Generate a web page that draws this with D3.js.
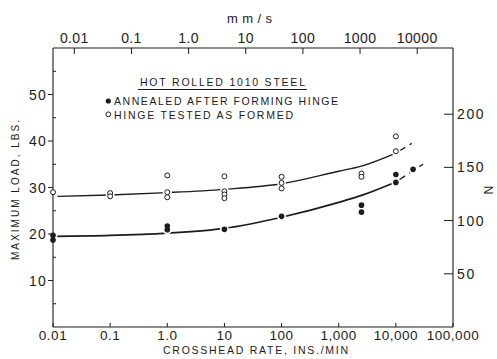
<!DOCTYPE html>
<html>
<head>
<meta charset="utf-8">
<script src="https://cdn.jsdelivr.net/npm/d3@7"></script>
<style>
  html, body { margin: 0; padding: 0; background: #fff; }
  svg { display: block; font-family: "Liberation Sans", Arial, sans-serif; }
</style>
</head>
<body>
<svg id="chart" width="497" height="359"></svg>
<script>
// Crosshead rate (in/min) versus maximum load (lb) for hinges of hot rolled 1010 steel.
const annealedPoints = [
  [0.01, 19.7], [0.01, 18.7], [1, 21.7], [1, 20.9], [10, 21.0], [100, 23.8],
  [2500, 26.2], [2500, 24.7], [10000, 32.8], [10000, 31.1], [20000, 33.9]
];
const asFormedPoints = [
  [0.01, 29.0], [0.1, 28.8], [0.1, 28.1], [1, 32.6], [1, 29.0], [1, 27.9],
  [10, 32.4], [10, 29.2], [10, 28.5], [10, 27.7], [100, 32.3], [100, 31.0], [100, 29.8],
  [2500, 33.0], [2500, 32.3], [10000, 41.0], [10000, 37.8]
];
// Faired curves (solid part, then dashed extrapolation)
const annealedFit = [[0.01, 19.5], [0.1, 19.7], [1, 20.2], [10, 21.2], [100, 23.6], [1000, 26.8], [2500, 28.3], [10000, 31.2]];
const annealedFitExt = [[10000, 31.2], [30000, 35.0]];
const asFormedFit = [[0.012, 28.1], [0.1, 28.4], [1, 28.9], [10, 29.6], [100, 30.8], [1000, 33.5], [2500, 34.6], [10000, 37.4]];
const asFormedFitExt = [[10000, 37.4], [19000, 39.5]];

// Axis ticks
const rateTicks = [0.01, 0.1, 1, 10, 100, 1000, 10000, 100000];
const rateLabels = ["0.01", "0.1", "1.0", "10", "100", "1,000", "10,000", "100,000"];
const mmTicks = [0.01, 0.1, 1, 10, 100, 1000, 10000];
const mmLabels = ["0.01", "0.1", "1.0", "10", "100", "1000", "10000"];
const lbTicks = [10, 20, 30, 40, 50];
const lbMinorTicks = [5, 15, 25, 35, 45, 55];
const nTicks = [50, 100, 150, 200];

const MM_S_PER_IN_MIN = 25.4 / 60;
const NEWTONS_PER_LB = 4.37;

const svg = d3.select("#chart");
const ink = "#1c1c1c";

const x = d3.scaleLog().domain([0.01, 100000]).range([53, 453]);
const y = d3.scaleLinear().domain([0, 60]).range([327, 48]);

const line = d3.line().x(d => x(d[0])).y(d => y(d[1])).curve(d3.curveMonotoneX);

// Faired curves
svg.append("path").attr("d", line(asFormedFit)).attr("fill", "none").attr("stroke", ink).attr("stroke-width", 1.4);
svg.append("path").attr("d", line(annealedFit)).attr("fill", "none").attr("stroke", ink).attr("stroke-width", 1.7);
svg.append("path").attr("d", line(asFormedFitExt)).attr("fill", "none").attr("stroke", ink).attr("stroke-width", 1.4)
  .attr("stroke-dasharray", "6,5").attr("stroke-dashoffset", -5);
svg.append("path").attr("d", line(annealedFitExt)).attr("fill", "none").attr("stroke", ink).attr("stroke-width", 1.4)
  .attr("stroke-dasharray", "7,5").attr("stroke-dashoffset", -4);

// White halos break the curves around each plotted point
svg.append("g").selectAll("circle").data(asFormedPoints.concat(annealedPoints)).join("circle")
  .attr("cx", d => x(d[0])).attr("cy", d => y(d[1])).attr("r", 4.5).attr("fill", "#fff");

// Frame and axes
const frame = svg.append("g").attr("stroke", ink).attr("stroke-width", 1.1).attr("fill", "none");
frame.append("line").attr("x1", x.range()[0]).attr("x2", x.range()[1]).attr("y1", y(0)).attr("y2", y(0));
frame.append("line").attr("x1", x.range()[0]).attr("x2", x.range()[1]).attr("y1", y(60)).attr("y2", y(60));
frame.append("line").attr("x1", x.range()[0]).attr("x2", x.range()[0]).attr("y1", y(0)).attr("y2", y(60));
frame.append("line").attr("x1", x.range()[1]).attr("x2", x.range()[1]).attr("y1", y(0)).attr("y2", y(60));

// Bottom axis: crosshead rate, in/min
const bottomAxis = svg.append("g");
bottomAxis.selectAll("line").data(rateTicks).join("line")
  .attr("x1", d => x(d)).attr("x2", d => x(d)).attr("y1", y(0)).attr("y2", y(0) - 4)
  .attr("stroke", ink).attr("stroke-width", 1);
bottomAxis.selectAll("text").data(rateTicks).join("text")
  .attr("x", d => x(d)).attr("y", 340).attr("text-anchor", "middle")
  .attr("font-size", 13.5).attr("letter-spacing", 0.5).attr("fill", ink)
  .text((d, i) => rateLabels[i]);
svg.append("text").attr("x", 163).attr("y", 354).attr("font-size", 10.5).attr("fill", ink)
  .attr("textLength", 185).attr("lengthAdjust", "spacing")
  .text("CROSSHEAD RATE, INS./MIN");

// Top axis: same rates in mm/s
const xTop = v => x(v / MM_S_PER_IN_MIN);
const topAxis = svg.append("g");
topAxis.selectAll("line").data(mmTicks).join("line")
  .attr("x1", d => xTop(d)).attr("x2", d => xTop(d)).attr("y1", y(60)).attr("y2", y(60) + 6)
  .attr("stroke", ink).attr("stroke-width", 1);
topAxis.selectAll("text").data(mmTicks).join("text")
  .attr("x", d => xTop(d)).attr("y", 43).attr("text-anchor", "middle")
  .attr("font-size", 14).attr("letter-spacing", 0.4).attr("fill", ink)
  .text((d, i) => mmLabels[i]);
svg.append("text").attr("x", 227).attr("y", 23).attr("font-size", 13).attr("fill", ink)
  .attr("textLength", 45).attr("lengthAdjust", "spacing").text("mm/s");

// Left axis: load in lb
const leftAxis = svg.append("g");
leftAxis.selectAll("line.major").data(lbTicks).join("line").attr("class", "major")
  .attr("x1", x.range()[0] - 5).attr("x2", x.range()[0]).attr("y1", d => y(d)).attr("y2", d => y(d))
  .attr("stroke", ink).attr("stroke-width", 1);
leftAxis.selectAll("line.minor").data(lbMinorTicks).join("line").attr("class", "minor")
  .attr("x1", x.range()[0]).attr("x2", x.range()[0] + 3).attr("y1", d => y(d)).attr("y2", d => y(d))
  .attr("stroke", ink).attr("stroke-width", 1);
leftAxis.selectAll("text").data(lbTicks).join("text")
  .attr("x", 47).attr("y", d => y(d) + 5).attr("text-anchor", "end")
  .attr("font-size", 14).attr("letter-spacing", 1.2).attr("fill", ink)
  .text(d => d);
svg.append("text").attr("transform", "translate(18.5,260) rotate(-90)")
  .attr("font-size", 10).attr("fill", ink)
  .attr("textLength", 140).attr("lengthAdjust", "spacing")
  .text("MAXIMUM LOAD, LBS.");

// Right axis: load in newtons
const yN = n => y(n / NEWTONS_PER_LB);
const rightAxis = svg.append("g");
rightAxis.selectAll("line").data(nTicks).join("line")
  .attr("x1", x.range()[1] - 9).attr("x2", x.range()[1]).attr("y1", d => yN(d)).attr("y2", d => yN(d))
  .attr("stroke", ink).attr("stroke-width", 1);
rightAxis.selectAll("text").data(nTicks).join("text")
  .attr("x", 457).attr("y", d => yN(d) + 5)
  .attr("font-size", 14).attr("letter-spacing", 1.6).attr("fill", ink)
  .text(d => d);
svg.append("text").attr("transform", "translate(484,190) rotate(90)")
  .attr("text-anchor", "middle").attr("font-size", 12).attr("fill", ink).text("N");

// Data points
svg.append("g").selectAll("circle").data(asFormedPoints).join("circle")
  .attr("cx", d => x(d[0])).attr("cy", d => y(d[1])).attr("r", 2.5)
  .attr("fill", "#fff").attr("stroke", ink).attr("stroke-width", 1);
svg.append("g").selectAll("circle").data(annealedPoints).join("circle")
  .attr("cx", d => x(d[0])).attr("cy", d => y(d[1])).attr("r", 2.8)
  .attr("fill", ink);

// Legend
const legend = svg.append("g").attr("fill", ink);
legend.append("text").attr("x", 140).attr("y", 86).attr("font-size", 10.5)
  .attr("textLength", 165).attr("lengthAdjust", "spacing").text("HOT ROLLED 1010 STEEL");
legend.append("line").attr("x1", 138).attr("x2", 307).attr("y1", 89.5).attr("y2", 89.5)
  .attr("stroke", ink).attr("stroke-width", 1.2);
legend.append("circle").attr("cx", 108.3).attr("cy", 101).attr("r", 2.6).attr("fill", ink);
legend.append("text").attr("x", 114).attr("y", 104.5).attr("font-size", 10.5)
  .attr("textLength", 224).attr("lengthAdjust", "spacing").text("ANNEALED AFTER FORMING HINGE");
legend.append("circle").attr("cx", 108.3).attr("cy", 114.3).attr("r", 2.4)
  .attr("fill", "#fff").attr("stroke", ink).attr("stroke-width", 1);
legend.append("text").attr("x", 114).attr("y", 119).attr("font-size", 10.5)
  .attr("textLength", 179).attr("lengthAdjust", "spacing").text("HINGE TESTED AS FORMED");
</script>
</body>
</html>
